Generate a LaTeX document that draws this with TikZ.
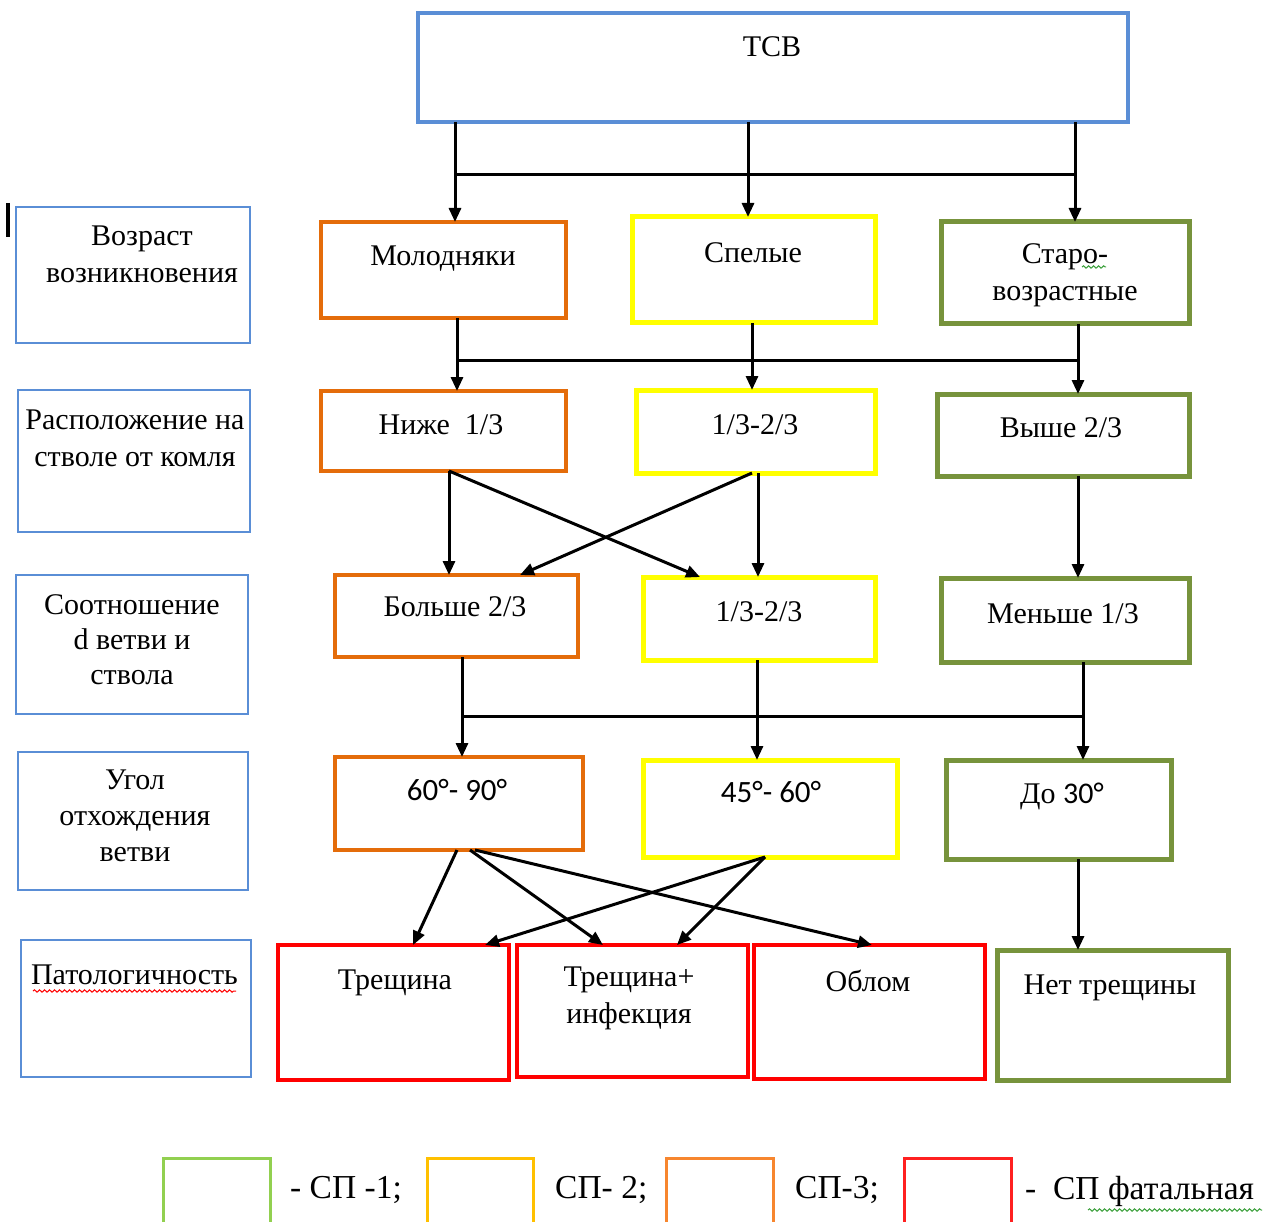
\documentclass[tikz,border=0pt]{standalone}
\usepackage{fontspec}
\setmainfont{Liberation Serif}
\newfontfamily\anglefont{Carlito}
\usetikzlibrary{arrows.meta,fit,decorations.pathmorphing}

\definecolor{cblue}{HTML}{5A8ED6}
\definecolor{corange}{HTML}{E46C0A}
\definecolor{cyellow}{HTML}{FFFF00}
\definecolor{cgreen}{HTML}{77933C}
\definecolor{cred}{HTML}{FF0000}
\definecolor{lgreen}{HTML}{92D050}
\definecolor{lgold}{HTML}{FFC000}
\definecolor{lorange}{HTML}{F7862E}
\definecolor{lred}{HTML}{FF2020}
\definecolor{spell}{HTML}{3CA03C}

\begin{document}
\begin{tikzpicture}[x=1pt,y=-1pt,
  frame/.style={draw, inner sep=0pt, outer sep=0pt, line width=4.5pt},
  headbox/.style={frame, draw=cblue, line width=4pt},
  sidebox/.style={frame, draw=cblue, line width=2pt},
  orbox/.style={frame, draw=corange},
  yebox/.style={frame, draw=cyellow, line width=5pt},
  grbox/.style={frame, draw=cgreen, line width=5pt},
  rdbox/.style={frame, draw=cred},
  legbox/.style={frame, line width=3pt},
  txt/.style={anchor=north, inner sep=0pt, align=center,
              font=\fontsize{30}{37}\selectfont},
  angtxt/.style={txt, font=\anglefont\fontsize{31}{37}\selectfont},
  legtxt/.style={anchor=north west, inner sep=0pt,
              font=\fontsize{33.5}{38}\selectfont},
  arr/.style={line width=3pt, -{Triangle[length=14pt,width=12pt]}},
  bar/.style={line width=3pt},
  wavy/.style={line width=1pt, decorate,
               decoration={snake, amplitude=1.2pt, segment length=5pt}}
]
\useasboundingbox (0,0) rectangle (1279,1222);
\clip (0,0) rectangle (1279,1222);
\fill[white] (0,0) rectangle (1279,1222);

% ---- top box ----
\node[headbox, fit={(418,13) (1128,122)}] (tcb) {};
\node[txt] (tcb-t) at (772,36) {ТСВ};

% ---- criteria column ----
\node[sidebox, fit={(16,207) (250,343)}] (age) {};
\node[txt] (age-t) at (142,226) {Возраст\\возникновения};
\node[sidebox, fit={(18,390) (250,532)}] (pos) {};
\node[txt] (pos-t) at (135,410) {Расположение на\\стволе от комля};
\node[sidebox, fit={(16,575) (248,714)}] (rat) {};
\node[txt, font=\fontsize{30}{35}\selectfont] (rat-t) at (132,594) {Соотношение\\d ветви и\\ствола};
\node[sidebox, fit={(18,752) (248,890)}] (ang) {};
\node[txt, font=\fontsize{30}{36}\selectfont] (ang-t) at (135,770) {Угол\\отхождения\\ветви};
\node[sidebox, fit={(21,940) (251,1077)}] (pat) {};
\node[txt] (pat-t) at (134.5,965) {Патологичность};

% ---- row 1: age ----
\node[orbox, fit={(321,222) (566,318)}] (mol) {};
\node[txt] (mol-t) at (443,246) {Молодняки};
\node[yebox, fit={(632,217) (875,323)}] (spel) {};
\node[txt] (spel-t) at (753,242) {Спелые};
\node[grbox, fit={(941,222) (1189,324)}] (staro) {};
\node[txt] (staro-t) at (1065,243) {Старо-\\возрастные};

% ---- row 2: position on the trunk ----
\node[orbox, fit={(321,391) (566,471)}] (niz) {};
\node[txt] (niz-t) at (441,414) {Ниже\ \ 1/3};
\node[yebox, fit={(636,390) (875,473)}] (mid2) {};
\node[txt] (mid2-t) at (755,414) {1/3-2/3};
\node[grbox, fit={(937,394) (1189,476)}] (vysh) {};
\node[txt] (vysh-t) at (1061,417) {Выше 2/3};

% ---- row 3: diameter ratio ----
\node[orbox, fit={(335,575) (578,657)}] (bol) {};
\node[txt] (bol-t) at (455,596) {Больше 2/3};
\node[yebox, fit={(643,577) (875,660)}] (mid3) {};
\node[txt] (mid3-t) at (759,601) {1/3-2/3};
\node[grbox, fit={(941,578) (1189,662)}] (men) {};
\node[txt] (men-t) at (1063,603) {Меньше 1/3};

% ---- row 4: branch angle ----
\node[orbox, fit={(335,757) (583,850)}] (a6090) {};
\node[angtxt] (a6090-t) at (457,779) {60°- 90°};
\node[yebox, fit={(643,760) (897,857)}] (a4560) {};
\node[angtxt] (a4560-t) at (771,781) {45°- 60°};
\node[grbox, fit={(946,760) (1171,859)}] (do30) {};
\node[txt] (do30-t) at (1062,783) {До {\anglefont 30°}};

% ---- row 5: pathology ----
\node[rdbox, fit={(278,945) (509,1080)}] (tr) {};
\node[txt] (tr-t) at (395,970) {Трещина};
\node[rdbox, fit={(517,945) (748,1077)}] (tri) {};
\node[txt] (tri-t) at (629,967) {Трещина+\\инфекция};
\node[rdbox, fit={(754,945) (985,1079)}] (obl) {};
\node[txt] (obl-t) at (868,970) {Облом};
\node[grbox, fit={(997,950) (1228,1080)}] (net) {};
\node[txt] (net-t) at (1110,975) {Нет трещины};

% ---- connector junctions ----
\coordinate (b1) at (455,175);  \coordinate (b2) at (1075,175);
\coordinate (c1) at (748,0);
\coordinate (b3) at (457,360);  \coordinate (b4) at (1078,360);
\coordinate (c2) at (752,0);
\coordinate (c3) at (449,0);    \coordinate (c4) at (700,0);
\coordinate (c5) at (752,0);    \coordinate (c6) at (520,0);
\coordinate (c7) at (758,0);    \coordinate (c8) at (1078,0);
\coordinate (b5) at (462,716);  \coordinate (b6) at (1083,716);
\coordinate (c9) at (757,0);
\coordinate (d1) at (457,0);    \coordinate (e1) at (413,0);
\coordinate (d2) at (470,0);    \coordinate (e2) at (603,0);
\coordinate (d3) at (475,0);    \coordinate (e3) at (872,0);
\coordinate (d4) at (765,0);    \coordinate (e4) at (485,0);
\coordinate (e5) at (677,0);
\coordinate (d6) at (1078,0);

% TCB -> age classes
\draw[bar] (b1) -- (b2);
\draw[arr] (tcb.south -| b1) -- (mol.north -| b1);
\draw[arr] (tcb.south -| c1) -- (spel.north -| c1);
\draw[arr] (tcb.south -| b2) -- (staro.north -| b2);

% age classes -> position
\draw[bar] (b3) -- (b4);
\draw[arr] (mol.south -| b3) -- (niz.north -| b3);
\draw[arr] (spel.south -| c2) -- (mid2.north -| c2);
\draw[arr] (staro.south -| b4) -- (vysh.north -| b4);

% position -> diameter ratio
\draw[arr] (niz.south -| c3) -- (bol.north -| c3);
\draw[arr] (niz.south -| c3) -- (mid3.north -| c4);
\draw[arr] (mid2.south -| c5) -- (bol.north -| c6);
\draw[arr] (mid2.south -| c7) -- (mid3.north -| c7);
\draw[arr] (vysh.south -| c8) -- (men.north -| c8);

% diameter ratio -> angle
\draw[bar] (b5) -- (b6);
\draw[arr] (bol.south -| b5) -- (a6090.north -| b5);
\draw[arr] (mid3.south -| c9) -- (a4560.north -| c9);
\draw[arr] (men.south -| b6) -- (do30.north -| b6);

% angle -> pathology
\draw[arr] (a6090.south -| d1) -- (tr.north -| e1);
\draw[arr] (a6090.south -| d2) -- (tri.north -| e2);
\draw[arr] (a6090.south -| d3) -- (obl.north -| e3);
\draw[arr] (a4560.south -| d4) -- (tr.north -| e4);
\draw[arr] (a4560.south -| d4) -- (tri.north -| e5);
\draw[arr] (do30.south -| d6) -- (net.north -| d6);

% ---- legend ----
\node[legbox, draw=lgreen, fit={(163,1158) (270,1232)}] (lg1) {};
\node[legtxt] (lg1-t) at (290,1176) {- СП -1;};
\node[legbox, draw=lgold, fit={(427,1158) (533,1232)}] (lg2) {};
\node[legtxt] (lg2-t) at (555,1176) {СП- 2;};
\node[legbox, draw=lorange, fit={(666,1158) (773,1232)}] (lg3) {};
\node[legtxt] (lg3-t) at (795,1176) {СП-3;};
\node[legbox, draw=lred, fit={(904,1158) (1011,1232)}] (lg4) {};
\node[legtxt] (lg4-t) at (1025,1176) {-\ \ СП фатальная};

% ---- proofing marks and caret ----
\draw[wavy, red] (33,991) -- (236,991);
\draw[wavy, spell] (1082,267) -- (1106,267);
\draw[wavy, spell] (1088,1210) -- (1262,1210);
\draw[line width=4pt] (8,203) -- (8,237);
\end{tikzpicture}
\end{document}
